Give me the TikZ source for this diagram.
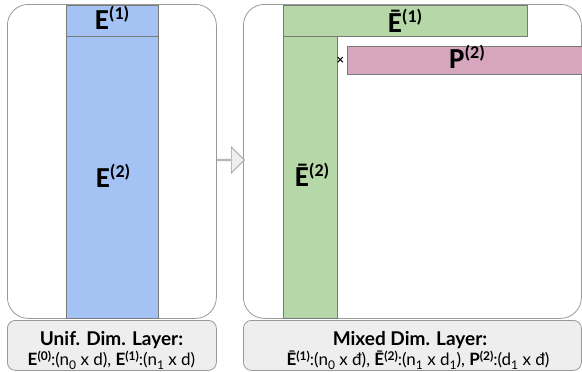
\documentclass[tikz,border=0pt]{standalone}
\usepackage{fontspec}
\setmainfont{Lato}
\newfontfamily\carl{Carlito}
\usetikzlibrary{shapes.arrows}
\definecolor{bluefill}{HTML}{A4C2F4}
\definecolor{greenfill}{HTML}{B6D7A8}
\definecolor{pinkfill}{HTML}{D5A6BD}
\definecolor{framecol}{HTML}{999999}
\definecolor{barline}{HTML}{7A7A7A}
\definecolor{boxfill}{HTML}{EEEEEE}
\newcommand\mlab[2]{{\carl\bfseries\fontsize{29}{29}\selectfont #1\raisebox{10pt}{\fontsize{18}{18}\selectfont(#2)}}}
\newcommand\bsup[1]{\raisebox{5pt}{\fontsize{12}{12}\selectfont\bfseries(#1)}}
\newcommand\bsub[1]{\raisebox{-4pt}{\fontsize{12}{12}\selectfont #1}}
\begin{document}
\begin{tikzpicture}[x=1pt,y=-1pt,
  frame/.style={draw=framecol, line width=0.8pt, rounded corners=21pt, anchor=north west, inner sep=0pt},
  bar/.style={draw=barline, line width=0.6pt, anchor=north west, inner sep=0pt},
  lbox/.style={draw=framecol, fill=boxfill, line width=0.8pt, rounded corners=8pt, anchor=north west, inner sep=0pt},
  lab/.style={anchor=base, inner sep=0pt},
  title/.style={anchor=base, inner sep=0pt, font=\bfseries\fontsize{19}{19}\selectfont},
  sub/.style={anchor=base, inner sep=0pt, font=\fontsize{17}{17}\selectfont}]
\useasboundingbox (0,0) rectangle (582,372);
% frames
\node[frame, minimum width=209pt, minimum height=314pt] (lf) at (7,4) {};
\node[frame, minimum width=338pt, minimum height=314pt] (rf) at (243,4) {};
% left column
\node[bar, fill=bluefill, minimum width=92pt, minimum height=31pt] (e1) at (66,5) {};
\node[bar, fill=bluefill, minimum width=92pt, minimum height=282pt] (e2) at (66,36) {};
\node[lab] (e1t) at (112,29.5) {\mlab{E}{1}};
\node[lab] (e2t) at (113,187) {\mlab{E}{2}};
% right
\node[bar, fill=greenfill, minimum width=244pt, minimum height=31pt] (g1) at (283,5) {};
\node[bar, fill=greenfill, minimum width=54pt, minimum height=282pt] (g2) at (283,36) {};
\node[bar, fill=pinkfill, minimum width=250pt, minimum height=28pt] (p2) at (347,46) {};
\node[lab] (g1t) at (405,32) {\mlab{Ē}{1}};
\node[lab] (g2t) at (312,186) {\mlab{Ē}{2}};
\node[lab] (p2t) at (467,68) {\mlab{P}{2}};
\node[lab] (times) at (340.5,64) {\bfseries\fontsize{13}{13}\selectfont ×};
% arrow
\node[single arrow, draw=framecol, fill=boxfill, line width=0.7pt, minimum width=26pt, minimum height=28pt,
  single arrow head extend=5.5pt, inner sep=0pt] (arr) at (230,160) {};
% label boxes
\node[lbox, minimum width=209pt, minimum height=50pt] (lb) at (7,320) {};
\node[lbox, minimum width=338pt, minimum height=50pt] (rb) at (243,320) {};
\node[title] (lbt1) at (111.5,345) {Unif. Dim. Layer:};
\node[sub] (lbt2) at (111.5,365.5) {\textbf{E}\bsup{0}:(n\bsub{0} x d), \textbf{E}\bsup{1}:(n\bsub{1} x d)};
\node[title] (rbt1) at (410,345) {Mixed Dim. Layer:};
\node[sub] (rbt2) at (418,365.5) {\textbf{Ē}\bsup{1}:(n\bsub{0} x đ), \textbf{Ē}\bsup{2}:(n\bsub{1} x d\bsub{1}), \textbf{P}\bsup{2}:(d\bsub{1} x đ)};
\end{tikzpicture}
\end{document}
